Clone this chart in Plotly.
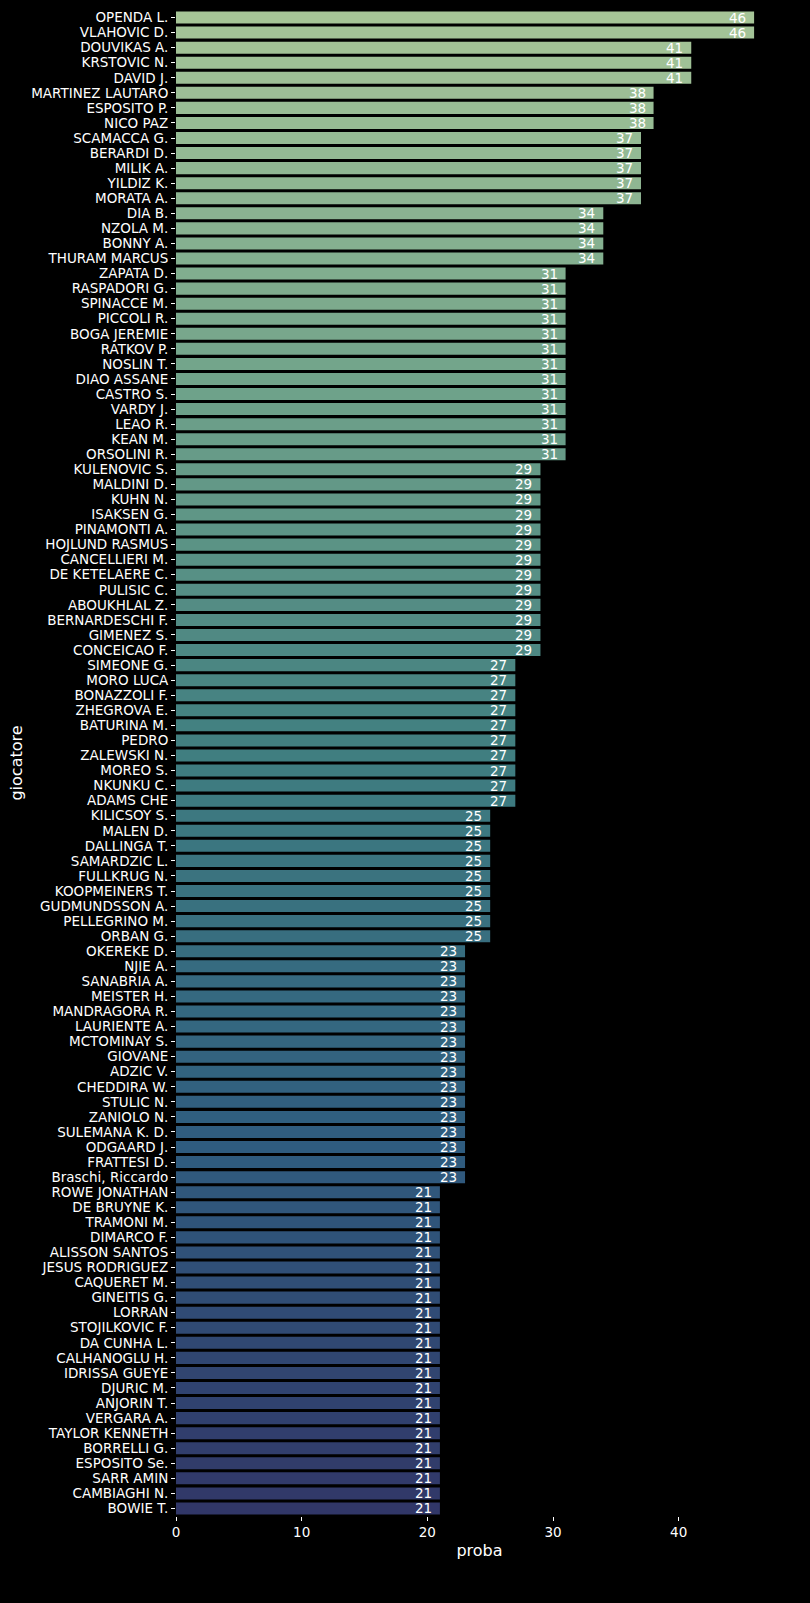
import colorsys
import plotly.graph_objects as go
from plotly.colors import sample_colorscale

# Data
giocatori = [
    "OPENDA L.", "VLAHOVIC D.", "DOUVIKAS A.", "KRSTOVIC N.", "DAVID J.",
    "MARTINEZ LAUTARO", "ESPOSITO P.", "NICO PAZ", "SCAMACCA G.", "BERARDI D.",
    "MILIK A.", "YILDIZ K.", "MORATA A.", "DIA B.", "NZOLA M.",
    "BONNY A.", "THURAM MARCUS", "ZAPATA D.", "RASPADORI G.", "SPINACCE M.",
    "PICCOLI R.", "BOGA JEREMIE", "RATKOV P.", "NOSLIN T.", "DIAO ASSANE",
    "CASTRO S.", "VARDY J.", "LEAO R.", "KEAN M.", "ORSOLINI R.",
    "KULENOVIC S.", "MALDINI D.", "KUHN N.", "ISAKSEN G.", "PINAMONTI A.",
    "HOJLUND RASMUS", "CANCELLIERI M.", "DE KETELAERE C.", "PULISIC C.", "ABOUKHLAL Z.",
    "BERNARDESCHI F.", "GIMENEZ S.", "CONCEICAO F.", "SIMEONE G.", "MORO LUCA",
    "BONAZZOLI F.", "ZHEGROVA E.", "BATURINA M.", "PEDRO", "ZALEWSKI N.",
    "MOREO S.", "NKUNKU C.", "ADAMS CHE", "KILICSOY S.", "MALEN D.",
    "DALLINGA T.", "SAMARDZIC L.", "FULLKRUG N.", "KOOPMEINERS T.", "GUDMUNDSSON A.",
    "PELLEGRINO M.", "ORBAN G.", "OKEREKE D.", "NJIE A.", "SANABRIA A.",
    "MEISTER H.", "MANDRAGORA R.", "LAURIENTE A.", "MCTOMINAY S.", "GIOVANE",
    "ADZIC V.", "CHEDDIRA W.", "STULIC N.", "ZANIOLO N.", "SULEMANA K. D.",
    "ODGAARD J.", "FRATTESI D.", "Braschi, Riccardo", "ROWE JONATHAN", "DE BRUYNE K.",
    "TRAMONI M.", "DIMARCO F.", "ALISSON SANTOS", "JESUS RODRIGUEZ", "CAQUERET M.",
    "GINEITIS G.", "LORRAN", "STOJILKOVIC F.", "DA CUNHA L.", "CALHANOGLU H.",
    "IDRISSA GUEYE", "DJURIC M.", "ANJORIN T.", "VERGARA A.", "TAYLOR KENNETH",
    "BORRELLI G.", "ESPOSITO Se.", "SARR AMIN", "CAMBIAGHI N.", "BOWIE T.",
]
proba = (
    [46, 46, 41, 41, 41, 38, 38, 38, 37, 37, 37, 37, 37, 34, 34, 34, 34]
    + [31] * 13
    + [29] * 13
    + [27] * 10
    + [25] * 9
    + [23] * 16
    + [21] * 22
)

# approx. seaborn "crest" palette, desaturated like barplot does
crest = [
    [0.0, "rgb(165,205,144)"],
    [0.25, "rgb(104,171,138)"],
    [0.5, "rgb(52,135,139)"],
    [0.75, "rgb(34,94,140)"],
    [1.0, "rgb(40,46,112)"],
]
n = len(giocatori)
cols = []
for c in sample_colorscale(crest, [(i + 1) / (n + 1) for i in range(n)]):
    r, g, b = [float(v) / 255 for v in c[4:-1].split(",")]
    h, l, s = colorsys.rgb_to_hls(r, g, b)
    r, g, b = colorsys.hls_to_rgb(h, l, s * 0.75)
    cols.append(f"rgb({r*255:.0f},{g*255:.0f},{b*255:.0f})")

fig = go.Figure()
fig.add_trace(go.Bar(
    x=proba, y=giocatori, orientation="h",
    marker=dict(color=cols, line=dict(width=0)),
    width=0.8, hoverinfo="x+y",
))

# value labels at the inner end of each bar
for g, v in zip(giocatori, proba):
    fig.add_annotation(
        x=v, y=g, text=str(v), showarrow=False,
        xanchor="right", xshift=-6,
        font=dict(color="white", size=13.5),
    )

fig.update_layout(
    width=810, height=1603,
    paper_bgcolor="black", plot_bgcolor="black",
    font=dict(family="DejaVu Sans", size=13.5, color="white"),
    margin=dict(l=176, r=27, t=10, b=87),
    showlegend=False,
)
fig.update_xaxes(
    range=[0, 48.3], showgrid=False, zeroline=False, showline=False,
    ticks="outside", ticklen=4, tickcolor="white", tickvals=[0, 10, 20, 30, 40],
    title_text="proba", title_standoff=5,
)
fig.update_yaxes(
    type="category", categoryorder="array", categoryarray=giocatori,
    tickmode="array", tickvals=giocatori, ticktext=giocatori,
    range=[n - 0.5, -0.5], showgrid=False, zeroline=False, showline=False,
    ticks="outside", ticklen=4, tickcolor="white",
    title_text="giocatore", title_standoff=4,
)

fig.write_html(
    "out.html",
    config={"displayModeBar": False},
    post_script=["document.body.style.margin='0';document.body.style.background='black';"],
)
